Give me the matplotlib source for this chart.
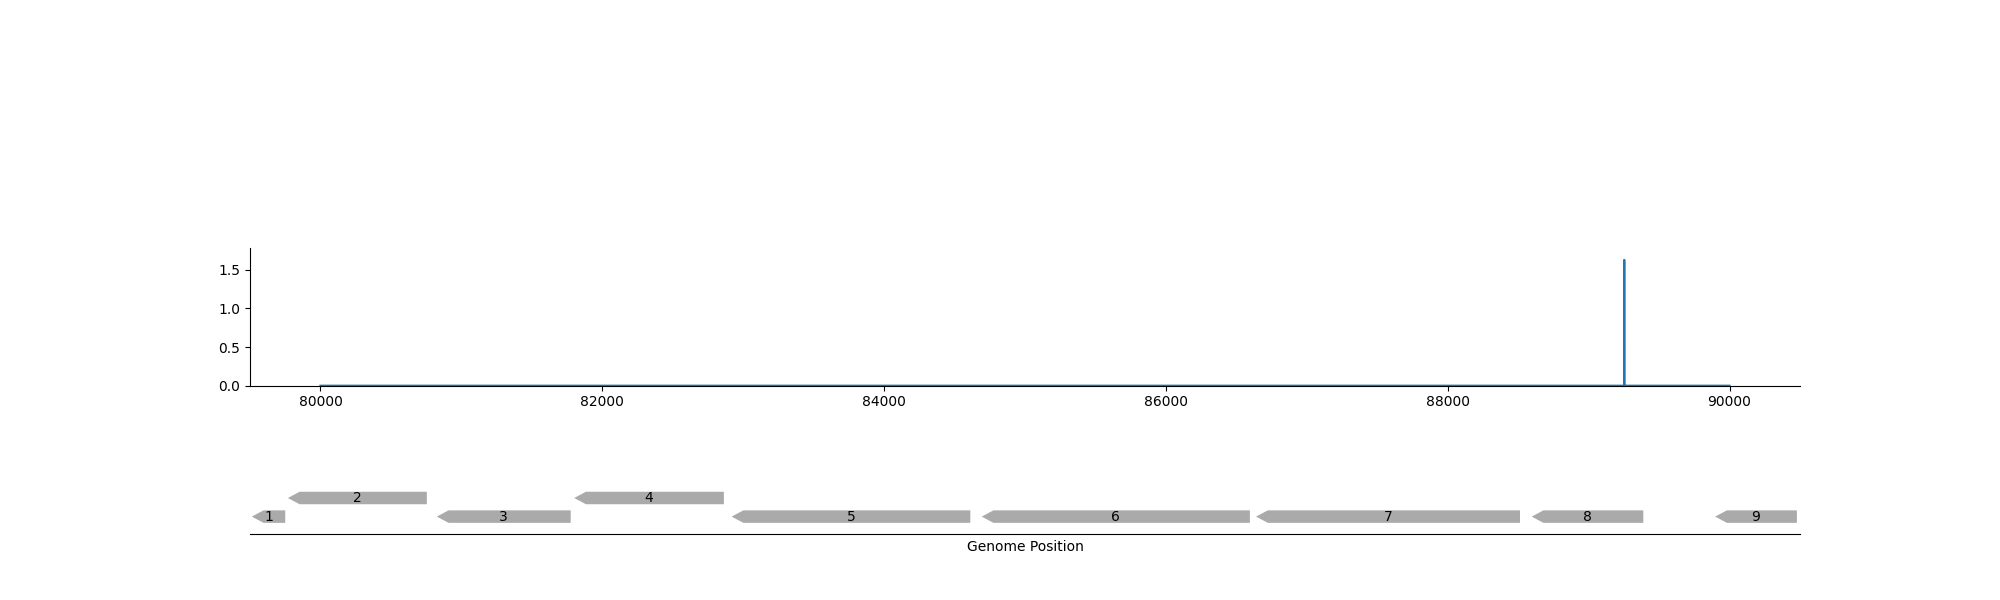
from matplotlib import pyplot as plt
from matplotlib.patches import Polygon

# coverage track (flat, one spike)
positions = [80000, 89252, 89253, 89254, 90000]
coverage = [0.0, 0.0, 1.63, 0.0, 0.0]

# genes: all on the reverse strand
gene_labels = ["1", "2", "3", "4", "5", "6", "7", "8", "9"]
gene_starts = [79513, 79769, 80826, 81801, 82918, 84693, 86640, 88596, 89898]
gene_ends = [79750, 80755, 81776, 82863, 84612, 86596, 88513, 89388, 90478]
gene_rows = [0, 1, 0, 1, 0, 0, 0, 0, 0]

fig = plt.figure(figsize = (20, 6), dpi = 100)

ax = fig.add_axes([0.125, 0.3572, 0.775, 0.229])
ax.plot(positions, coverage, color = "#1f77b4")
ax.set_ylim(0, 1.78)
ax.set_xticks(range(80000, 90001, 2000))
ax.spines["top"].set_visible(False)
ax.spines["right"].set_visible(False)
xlim = ax.get_xlim()

gx = fig.add_axes([0.125, 0.11, 0.775, 0.2])
gx.set_xlim(xlim)
gx.set_ylim(0, 10)
row_y = [1.45, 3.0]
half = 0.52
head = 83
for label, start, end, row in zip(gene_labels, gene_starts, gene_ends, gene_rows):
  y = row_y[row]
  tip = min(head, end - start)
  pts = [
    (start, y), (start + tip, y + half), (end, y + half),
    (end, y - half), (start + tip, y - half),
  ]
  gx.add_patch(Polygon(pts, closed = True, facecolor = "#aaaaaa", edgecolor = "none"))
  gx.text((start + end) / 2, y, label, ha = "center", va = "center", fontsize = 10)

for side in ("top", "right", "left"):
  gx.spines[side].set_visible(False)
gx.set_yticks([])
gx.set_xticks([])
gx.set_xlabel("Genome Position")

fig.savefig("out.png")
